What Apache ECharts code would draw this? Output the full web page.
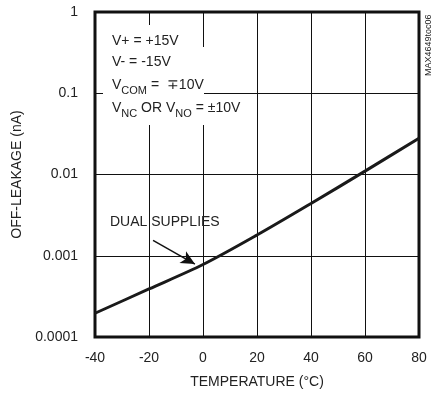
<!DOCTYPE html>
<html>
<head>
<meta charset="utf-8">
<script src="https://cdn.jsdelivr.net/npm/echarts@6/dist/echarts.min.js"></script>
<style>html,body{margin:0;padding:0;background:#fff}#c{width:439px;height:403px}</style>
</head>
<body>
<div id="c"></div>
<script>
// Data
const temperatures = [-40, -20, 0, 20, 40, 60, 80];
const offLeakage = [0.000196, 0.00039, 0.00078, 0.0018, 0.0044, 0.011, 0.028];
const xTicks = [-40, -20, 0, 20, 40, 60, 80];
const yTicks = [0.0001, 0.001, 0.01, 0.1, 1];
const yTickLabels = ['0.0001', '0.001', '0.01', '0.1', '1'];
const arrowFrom = [-18.5, 0.00155];
const arrowTo = [-3, 0.00079];

const FONT = '"Liberation Sans", Arial, sans-serif';
const TXT = '#222';

const chart = echarts.init(document.getElementById('c'), null, {renderer: 'canvas'});

const option = {
  animation: false,
  backgroundColor: '#fff',
  textStyle: {fontFamily: FONT},
  grid: {left: 95, right: 20, top: 12, bottom: 66, show: true, borderColor: '#111', borderWidth: 3, backgroundColor: 'transparent'},
  xAxis: {
    type: 'value', min: -40, max: 80, interval: 20,
    name: 'TEMPERATURE (°C)', nameLocation: 'middle', nameGap: 38,
    nameTextStyle: {fontFamily: FONT, fontSize: 14, color: TXT},
    axisLine: {show: false}, axisTick: {show: false},
    axisLabel: {fontFamily: FONT, fontSize: 14, color: TXT, margin: 14},
    splitLine: {show: true, lineStyle: {color: '#111', width: 1}}
  },
  yAxis: {
    type: 'log', logBase: 10, min: 0.0001, max: 1,
    name: 'OFF-LEAKAGE (nA)', nameLocation: 'middle', nameGap: 67,
    nameTextStyle: {fontFamily: FONT, fontSize: 14, color: TXT},
    axisLine: {show: false}, axisTick: {show: false},
    axisLabel: {fontFamily: FONT, fontSize: 14, color: TXT, margin: 17,
      formatter: function (v) {
        for (let i = 0; i < yTicks.length; i++) {
          if (Math.abs(Math.log10(v) - Math.log10(yTicks[i])) < 1e-6) return yTickLabels[i];
        }
        return '';
      }},
    splitLine: {show: true, lineStyle: {color: '#111', width: 1}}
  },
  graphic: [
    {type: 'rect', z: 1, shape: {x: 103, y: 25, width: 92, height: 23}, style: {fill: '#fff'}},
    {type: 'rect', z: 1, shape: {x: 103, y: 47, width: 101, height: 51}, style: {fill: '#fff'}},
    {type: 'rect', z: 1, shape: {x: 103, y: 97, width: 143, height: 28}, style: {fill: '#fff'}},
    {type: 'text', z: 2, left: 112, top: 34, style: {text: 'V+ = +15V', fontFamily: FONT, fontSize: 14, fill: TXT}},
    {type: 'text', z: 2, left: 112, top: 55, style: {text: 'V- = -15V', fontFamily: FONT, fontSize: 14, fill: TXT}},
    {type: 'text', z: 2, left: 112, top: 78, style: {
      text: '{m|V}{s|COM}{m| =  ∓10V}', fontFamily: FONT, fontSize: 14, fill: TXT,
      rich: {m: {fontFamily: FONT, fontSize: 14, fill: TXT, verticalAlign: 'top', lineHeight: 18},
             s: {fontFamily: FONT, fontSize: 11, fill: TXT, verticalAlign: 'bottom', lineHeight: 18, padding: [5, 0, 0, 0]}}}},
    {type: 'text', z: 2, left: 112, top: 101, style: {
      text: '{m|V}{s|NC}{m| OR V}{s|NO}{m| = ±10V}', fontFamily: FONT, fontSize: 14, fill: TXT,
      rich: {m: {fontFamily: FONT, fontSize: 14, fill: TXT, verticalAlign: 'top', lineHeight: 18},
             s: {fontFamily: FONT, fontSize: 11, fill: TXT, verticalAlign: 'bottom', lineHeight: 18, padding: [5, 0, 0, 0]}}}},
    {type: 'text', z: 2, left: 110, top: 215, style: {text: 'DUAL SUPPLIES', fontFamily: FONT, fontSize: 14, fill: TXT}},
    {type: 'text', z: 2, x: 424, y: 76, rotation: Math.PI / 2, style: {text: 'MAX4649toc06', fontFamily: FONT, fontSize: 9, fill: TXT}}
  ],
  series: [{
    type: 'line',
    data: temperatures.map((t, i) => [t, offLeakage[i]]),
    smooth: 0.3,
    symbol: 'none',
    lineStyle: {color: '#1a1a1a', width: 3},
    z: 3,
    markLine: {
      silent: true,
      symbol: ['none', 'arrow'],
      symbolSize: [10, 14],
      label: {show: false},
      lineStyle: {color: '#111', width: 1.5, type: 'solid'},
      data: [[{coord: arrowFrom}, {coord: arrowTo}]]
    }
  }]
};
chart.setOption(option);
</script>
</body>
</html>
